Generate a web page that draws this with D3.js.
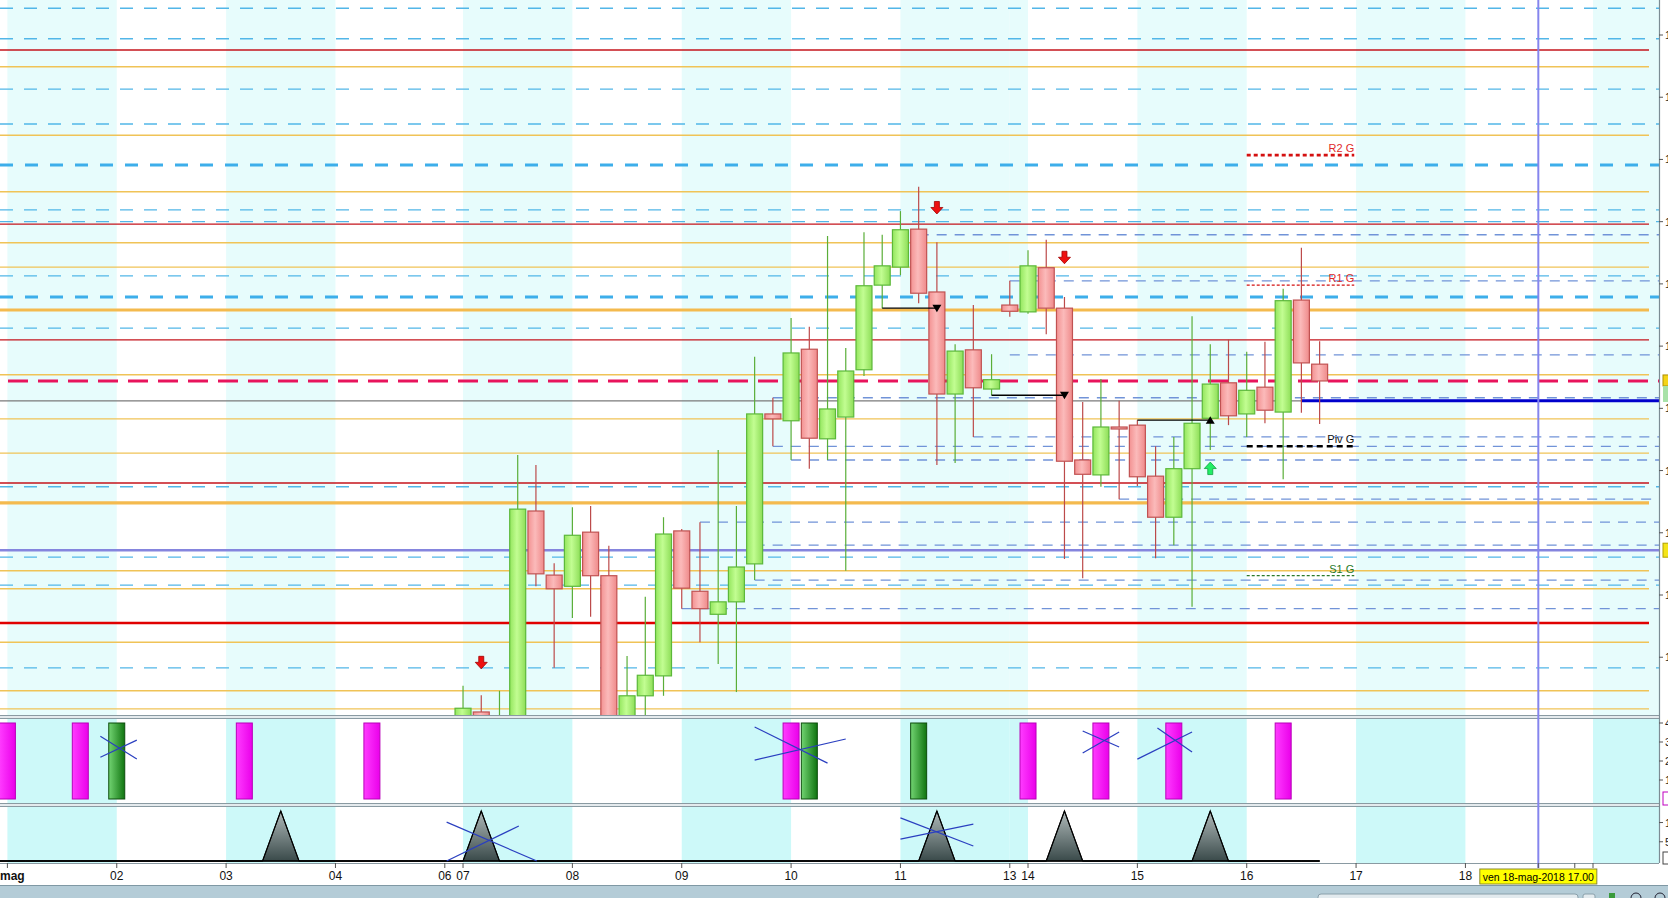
<!DOCTYPE html>
<html>
<head>
<meta charset="utf-8">
<script src="https://cdn.jsdelivr.net/npm/d3@7"></script>
<style>
body { margin: 0; background: #fff; overflow: hidden; }
text { font-family: Arial, "Liberation Sans", sans-serif; }
</style>
</head>
<body>
<div id="viz"></div>
<script>

// ---- data ----

// days on the time axis: label, first candle index, shaded or not
// (labels of 20 and 21 sit under the cursor date tag, so they stay empty)
var dayLabels = ['mag', '02', '03', '04', '06', '07', '08', '09', '10', '11', '13', '14', '15', '16', '17', '18', '', ''];
var dayStart  = [0, 6, 12, 18, 24, 25, 31, 37, 43, 49, 55, 56, 62, 68, 74, 80, 86, 87];
var dayShaded = [1, 0, 1, 0, 0, 1, 0, 1, 0, 1, 1, 0, 1, 0, 1, 0, 0, 1];

// 4h candles, index 25 (07 mag) to 72 (16 mag)
var candleFirst = 25;
var openP  = [109.802, 109.812, 109.735, 109.775, 110.135, 110.032, 110.014, 110.101, 110.031, 109.767, 109.838, 109.870,
              110.103, 110.006, 109.969, 109.989, 110.050, 110.291, 110.280, 110.395, 110.251, 110.286, 110.362, 110.498,
              110.527, 110.588, 110.487, 110.323, 110.394, 110.331, 110.466, 110.455, 110.526, 110.461, 110.217, 110.193,
              110.270, 110.273, 110.191, 110.125, 110.203, 110.284, 110.341, 110.291, 110.334, 110.294, 110.474, 110.371];
var highP  = [109.854, 109.839, 109.846, 110.225, 110.209, 110.051, 110.141, 110.143, 110.079, 109.902, 109.997, 110.125,
              110.106, 110.117, 110.233, 110.143, 110.383, 110.317, 110.445, 110.431, 110.577, 110.397, 110.583, 110.579,
              110.617, 110.656, 110.567, 110.403, 110.466, 110.387, 110.505, 110.554, 110.571, 110.479, 110.310, 110.347,
              110.312, 110.281, 110.239, 110.254, 110.448, 110.403, 110.411, 110.391, 110.407, 110.492, 110.558, 110.408];
var lowP   = [109.783, 109.775, 109.719, 109.751, 110.014, 109.883, 109.963, 109.965, 109.735, 109.751, 109.804, 109.838,
              109.978, 109.924, 109.889, 109.844, 110.024, 110.239, 110.217, 110.203, 110.217, 110.039, 110.352, 110.461,
              110.514, 110.469, 110.209, 110.212, 110.254, 110.321, 110.447, 110.452, 110.419, 110.058, 110.027, 110.174,
              110.154, 110.175, 110.059, 110.080, 109.981, 110.233, 110.273, 110.254, 110.276, 110.186, 110.293, 110.275];
var closeP = [109.818, 109.799, 109.791, 110.138, 110.034, 110.010, 110.096, 110.031, 109.767, 109.838, 109.871, 110.098,
              110.011, 109.978, 109.989, 110.045, 110.291, 110.283, 110.389, 110.252, 110.299, 110.360, 110.497, 110.529,
              110.587, 110.485, 110.323, 110.392, 110.333, 110.346, 110.456, 110.529, 110.461, 110.215, 110.194, 110.270,
              110.268, 110.190, 110.125, 110.203, 110.276, 110.339, 110.288, 110.329, 110.297, 110.473, 110.373, 110.344];

// horizontal levels on the price panel
var lightDashLevels   = [110.943, 110.894, 110.813, 110.757, 110.619, 110.600, 110.513, 110.429, 110.174, 110.061, 110.016, 109.883];
var thickDashLevels   = [110.691, 110.479];
var stepLevelIdx      = [50, 55, 55, 42, 53, 42, 43, 61, 38, 41, 41, 37];
var stepLevelPrice    = [110.579, 110.505, 110.386, 110.317, 110.254, 110.239, 110.217, 110.154, 110.117, 110.080, 110.024, 109.978];
var orangeLevels      = [110.849, 110.739, 110.648, 110.566, 110.527, 110.354, 110.283, 110.228, 110.039, 110.010, 109.924, 109.846, 109.817];
var orangeThickLevels = [110.458, 110.148];
var redLevels         = [110.876, 110.596, 110.410, 110.180];
var redThickLevels    = [109.955];
var magentaLevel = 110.344;
var grayLevel = 110.312;
var purpleLevel = 110.072;
var lastPrice = 110.312, lastPriceFrom = 71;

// daily pivots drawn over the 16th
var pivotNames  = ['R2 G', 'R1 G', 'Piv G', 'S1 G'];
var pivotPrices = [110.707, 110.498, 110.239, 110.031];
var pivotFrom = 68, pivotTo = 73.9;

// signal arrows
var downArrowIdx = [26, 51, 58];
var downArrowP   = [109.891, 110.622, 110.542];
var upArrowIdx   = [66];
var upArrowP     = [110.204];

// black breakout lines with triangle at the end
var breakFrom  = [48, 54, 62];
var breakTo    = [51, 58, 66];
var breakPrice = [110.461, 110.321, 110.281];
var breakDir   = ['down', 'down', 'up'];

// indicator 1: bars
var magentaBarIdx = [0, 4, 13, 20, 43, 56, 60, 64, 70];
var greenBarIdx   = [6, 44, 50];
var barValue = 4;
// crossed-out marks, [i0, v0, i1, v1]
var cross1 = [[5.1, 3.3, 7.1, 2.1], [5.1, 2.2, 7.1, 3.1],
              [41.0, 3.79, 45.0, 1.89], [41.0, 2.05, 46.0, 3.16],
              [59.0, 3.58, 61.0, 2.74], [59.0, 2.42, 61.0, 3.53],
              [63.1, 3.74, 65.0, 2.47], [62.0, 2.1, 65.0, 3.53]];

// indicator 2: spike series from index -1 to 72
var oscStart = -1;
var oscValues = [0, 0, 0, 0, 0, 0, 0, 0, 0, 0,
                 0, 0, 0, 0, 0, 0, 13, 0, 0, 0,
                 0, 0, 0, 0, 0, 0, 0, 13, 0, 0,
                 0, 0, 0, 0, 0, 0, 0, 0, 0, 0,
                 0, 0, 0, 0, 0, 0, 0, 0, 0, 0,
                 0, 0, 13, 0, 0, 0, 0, 0, 0, 13,
                 0, 0, 0, 0, 0, 0, 0, 13, 0, 0,
                 0, 0, 0, 0];
var cross2 = [[24.1, 10.1, 29.05, 0], [24.1, 0, 28.06, 9.1],
              [49.0, 11.2, 53.0, 3.9], [49.0, 5.7, 53.0, 9.6]];

// axis ticks
var priceTicks = [109.9, 110.0, 110.1, 110.2, 110.3, 110.4, 110.5, 110.6, 110.7, 110.8, 110.9];
var p1Ticks = [1, 2, 3, 4];
var p2Ticks = [5, 10];
var cursorIdx = 84;
var cursorLabel = 'ven 18-mag-2018 17.00';


// ---- layout ----
var W = 1668, H = 898;
var plotRight = 1659;
var solidRight = 1649;
var mainBottom = 715;
var p1Top = 718, p1Bottom = 803;
var p2Top = 806, p2Bottom = 863;

var svg = d3.select('#viz').append('svg')
	.attr('width', W)
	.attr('height', H);

// scales
var x = d3.scaleLinear().domain([0, 87]).range([7.4, 1593]);
var y = d3.scaleLinear().domain([110.0, 110.9]).range([595, 35]);
var y1 = d3.scaleLinear().domain([0, 4]).range([799, 723]);
var y2 = d3.scaleLinear().domain([0, 13]).range([861, 811]);

// gradients
var defs = svg.append('defs');
function hGrad(id, stops) {
	var g = defs.append('linearGradient').attr('id', id)
		.attr('x1', '0%').attr('x2', '100%').attr('y1', '0%').attr('y2', '0%');
	stops.forEach(function(s) { g.append('stop').attr('offset', s[0]).attr('stop-color', s[1]); });
}
hGrad('gUp', [['0%', '#94e65e'], ['45%', '#c2fd92'], ['100%', '#8ede58']]);
hGrad('gDown', [['0%', '#f39292'], ['45%', '#fbbaba'], ['100%', '#ef8a8a']]);
hGrad('gMag', [['0%', '#ff3cff'], ['100%', '#ea00ea']]);
hGrad('gGreen', [['0%', '#72d472'], ['100%', '#107410']]);
var tg = defs.append('linearGradient').attr('id', 'gTri')
	.attr('x1', '0%').attr('x2', '0%').attr('y1', '0%').attr('y2', '100%');
tg.append('stop').attr('offset', '0%').attr('stop-color', '#b0baba');
tg.append('stop').attr('offset', '100%').attr('stop-color', '#3a4a4a');

defs.append('clipPath').attr('id', 'clipMain')
	.append('rect').attr('x', 0).attr('y', 0).attr('width', plotRight).attr('height', mainBottom);
defs.append('clipPath').attr('id', 'clipP1')
	.append('rect').attr('x', 0).attr('y', p1Top).attr('width', plotRight).attr('height', p1Bottom - p1Top);
defs.append('clipPath').attr('id', 'clipP2')
	.append('rect').attr('x', 0).attr('y', p2Top).attr('width', plotRight).attr('height', p2Bottom - p2Top);

// day bands
var bandData = dayStart.map(function(s, k) {
	return {x0: x(s), x1: k < dayStart.length - 1 ? x(dayStart[k + 1]) : plotRight, shaded: dayShaded[k]};
});

function drawBands(g, top, bottom, color) {
	g.selectAll('.band')
		.data(bandData.filter(function(d) { return d.shaded; }))
		.enter().append('rect')
		.attr('class', 'band')
		.attr('x', function(d) { return d.x0; })
		.attr('y', top)
		.attr('width', function(d) { return Math.min(d.x1, plotRight) - d.x0; })
		.attr('height', bottom - top)
		.attr('fill', color);
}

// gap strips between panels
svg.append('rect').attr('x', 0).attr('y', mainBottom).attr('width', plotRight).attr('height', p1Top - mainBottom).attr('fill', '#e4eaed');
svg.append('rect').attr('x', 0).attr('y', p1Bottom).attr('width', plotRight).attr('height', p2Top - p1Bottom).attr('fill', '#e4eaed');


// ---- price panel ----
var main = svg.append('g').attr('clip-path', 'url(#clipMain)');
drawBands(main, 0, mainBottom, '#e7fcfc');

function hLines(data, color, width, dash, x1) {
	main.append('g').selectAll('line')
		.data(data)
		.enter().append('line')
		.attr('x1', 0)
		.attr('x2', x1)
		.attr('y1', function(d) { return y(d); })
		.attr('y2', function(d) { return y(d); })
		.attr('stroke', color)
		.attr('stroke-width', width)
		.attr('stroke-dasharray', dash);
}

hLines(lightDashLevels, '#52b6e8', 1.3, '13,11', plotRight);
hLines(thickDashLevels, '#3daeea', 3, '13,12', plotRight);
hLines(orangeLevels, '#f0c357', 1.4, null, solidRight);
hLines(orangeThickLevels, '#f4ba4e', 3.2, null, solidRight);
hLines(redLevels, '#c4141c', 1.4, null, solidRight);
hLines(redThickLevels, '#e00000', 2.6, null, solidRight);
hLines([grayLevel], '#7a7a7a', 1.2, null, solidRight);
hLines([purpleLevel], '#8585de', 2.6, null, plotRight);

// levels that start at a given candle
main.append('g').selectAll('line')
	.data(stepLevelIdx)
	.enter().append('line')
	.attr('x1', function(d) { return x(d); })
	.attr('x2', plotRight)
	.attr('y1', function(d, i) { return y(stepLevelPrice[i]); })
	.attr('y2', function(d, i) { return y(stepLevelPrice[i]); })
	.attr('stroke', '#7193d8')
	.attr('stroke-width', 1.3)
	.attr('stroke-dasharray', '10,8');

// last price line
main.append('line')
	.attr('x1', x(lastPriceFrom)).attr('x2', plotRight)
	.attr('y1', y(lastPrice)).attr('y2', y(lastPrice))
	.attr('stroke', '#0000cc').attr('stroke-width', 3);

main.append('line')
	.attr('x1', 8).attr('x2', plotRight)
	.attr('y1', y(magentaLevel)).attr('y2', y(magentaLevel))
	.attr('stroke', '#e8145c').attr('stroke-width', 3)
	.attr('stroke-dasharray', '20,10');

// pivots
var pivotColor = ['#d41010', '#d41010', '#000000', '#2a7a2a'];
var pivotWidth = [2.6, 1.2, 2.6, 1.2];
var pivotDash = ['4,3', '3,2', '6,4', '3,2'];
var pivotText = ['#e02a2a', '#e02a2a', '#111111', '#2a7a2a'];
main.append('g').selectAll('line')
	.data(pivotPrices)
	.enter().append('line')
	.attr('x1', x(pivotFrom))
	.attr('x2', x(pivotTo))
	.attr('y1', function(d) { return y(d); })
	.attr('y2', function(d) { return y(d); })
	.attr('stroke', function(d, i) { return pivotColor[i]; })
	.attr('stroke-width', function(d, i) { return pivotWidth[i]; })
	.attr('stroke-dasharray', function(d, i) { return pivotDash[i]; });
main.append('g').selectAll('text')
	.data(pivotPrices)
	.enter().append('text')
	.attr('x', x(pivotTo))
	.attr('y', function(d) { return y(d) - 3; })
	.attr('text-anchor', 'end')
	.attr('font-size', '11px')
	.attr('fill', function(d, i) { return pivotText[i]; })
	.text(function(d, i) { return pivotNames[i]; });

// candles
var candles = openP.map(function(o, k) {
	return {i: candleFirst + k, o: o, h: highP[k], l: lowP[k], c: closeP[k]};
});

main.append('g').selectAll('line')
	.data(candles)
	.enter().append('line')
	.attr('x1', function(d) { return x(d.i); })
	.attr('x2', function(d) { return x(d.i); })
	.attr('y1', function(d) { return y(d.h); })
	.attr('y2', function(d) { return y(d.l); })
	.attr('stroke', function(d) { return d.c >= d.o ? '#5aae38' : '#bc4a4a'; })
	.attr('stroke-width', 1.2);

main.append('g').selectAll('rect')
	.data(candles)
	.enter().append('rect')
	.attr('x', function(d) { return x(d.i) - 8; })
	.attr('width', 16)
	.attr('y', function(d) { return y(Math.max(d.o, d.c)); })
	.attr('height', function(d) { return Math.max(2, Math.abs(y(d.o) - y(d.c))); })
	.attr('fill', function(d) { return d.c >= d.o ? 'url(#gUp)' : 'url(#gDown)'; })
	.attr('stroke', function(d) { return d.c >= d.o ? '#5cb83a' : '#c05252'; })
	.attr('stroke-width', 1.2);

// breakout lines
var breaks = breakFrom.map(function(f, k) {
	return {f: f, t: breakTo[k], p: breakPrice[k], dir: breakDir[k]};
});
main.append('g').selectAll('line')
	.data(breaks)
	.enter().append('line')
	.attr('x1', function(d) { return x(d.f); })
	.attr('x2', function(d) { return x(d.t); })
	.attr('y1', function(d) { return y(d.p); })
	.attr('y2', function(d) { return y(d.p); })
	.attr('stroke', '#000').attr('stroke-width', 1.3);
main.append('g').selectAll('path')
	.data(breaks)
	.enter().append('path')
	.attr('transform', function(d) { return 'translate(' + x(d.t) + ',' + y(d.p) + ')'; })
	.attr('d', function(d) { return d.dir == 'down' ? 'M-4.5,-3.5L4.5,-3.5L0,4Z' : 'M-4.5,3.5L4.5,3.5L0,-4Z'; })
	.attr('fill', '#000');

// signal arrows
var arrowDown = 'M-2.5,-6.5L2.5,-6.5L2.5,-0.5L6,-0.5L0,6L-6,-0.5L-2.5,-0.5Z';
var arrowUp = 'M-2.5,6.5L2.5,6.5L2.5,0.5L6,0.5L0,-6L-6,0.5L-2.5,0.5Z';
main.append('g').selectAll('path')
	.data(downArrowIdx)
	.enter().append('path')
	.attr('transform', function(d, i) { return 'translate(' + x(d) + ',' + y(downArrowP[i]) + ')'; })
	.attr('d', arrowDown)
	.attr('fill', '#ee1010').attr('stroke', '#a00000').attr('stroke-width', 0.8);
main.append('g').selectAll('path')
	.data(upArrowIdx)
	.enter().append('path')
	.attr('transform', function(d, i) { return 'translate(' + x(d) + ',' + y(upArrowP[i]) + ')'; })
	.attr('d', arrowUp)
	.attr('fill', '#22ee66').attr('stroke', '#10a040').attr('stroke-width', 0.8);


// ---- indicator panel 1 ----
var pan1 = svg.append('g').attr('clip-path', 'url(#clipP1)');
pan1.append('rect').attr('x', 0).attr('y', p1Top).attr('width', plotRight).attr('height', p1Bottom - p1Top).attr('fill', '#fff');
drawBands(pan1, p1Top, p1Bottom, '#cdf9f9');

pan1.append('g').selectAll('rect')
	.data(magentaBarIdx)
	.enter().append('rect')
	.attr('x', function(d) { return x(d) - 8; })
	.attr('width', 16)
	.attr('y', y1(barValue))
	.attr('height', y1(0) - y1(barValue))
	.attr('fill', 'url(#gMag)')
	.attr('stroke', '#b800b8');
pan1.append('g').selectAll('rect')
	.data(greenBarIdx)
	.enter().append('rect')
	.attr('x', function(d) { return x(d) - 8; })
	.attr('width', 16)
	.attr('y', y1(barValue))
	.attr('height', y1(0) - y1(barValue))
	.attr('fill', 'url(#gGreen)')
	.attr('stroke', '#0c4c0c');
pan1.append('g').selectAll('line')
	.data(cross1)
	.enter().append('line')
	.attr('x1', function(d) { return x(d[0]); })
	.attr('y1', function(d) { return y1(d[1]); })
	.attr('x2', function(d) { return x(d[2]); })
	.attr('y2', function(d) { return y1(d[3]); })
	.attr('stroke', '#2a3fc0').attr('stroke-width', 1.2);


// ---- indicator panel 2 ----
var pan2 = svg.append('g').attr('clip-path', 'url(#clipP2)');
pan2.append('rect').attr('x', 0).attr('y', p2Top).attr('width', plotRight).attr('height', p2Bottom - p2Top).attr('fill', '#fff');
drawBands(pan2, p2Top, p2Bottom, '#cdf9f9');

var osc = oscValues.map(function(v, k) { return {i: k + oscStart, v: v}; });
pan2.append('path')
	.datum(osc)
	.attr('d', d3.area()
		.x(function(d) { return x(d.i); })
		.y0(y2(0))
		.y1(function(d) { return y2(d.v); }))
	.attr('fill', 'url(#gTri)')
	.attr('stroke', '#111')
	.attr('stroke-width', 1);
pan2.append('path')
	.datum(osc)
	.attr('d', d3.line()
		.x(function(d) { return x(d.i); })
		.y(function(d) { return y2(d.v); }))
	.attr('fill', 'none')
	.attr('stroke', '#000')
	.attr('stroke-width', 1.2);
pan2.append('line')
	.attr('x1', 0).attr('x2', x(oscValues.length - 1 + oscStart))
	.attr('y1', y2(0)).attr('y2', y2(0))
	.attr('stroke', '#000').attr('stroke-width', 1.6);
pan2.append('g').selectAll('line')
	.data(cross2)
	.enter().append('line')
	.attr('x1', function(d) { return x(d[0]); })
	.attr('y1', function(d) { return y2(d[1]); })
	.attr('x2', function(d) { return x(d[2]); })
	.attr('y2', function(d) { return y2(d[3]); })
	.attr('stroke', '#2a3fc0').attr('stroke-width', 1.2);


// ---- panel borders ----
[mainBottom + 0.5, p1Top + 0.5, p1Bottom + 0.5, p2Top + 0.5, p2Bottom + 0.5].forEach(function(yy) {
	svg.append('line').attr('x1', 0).attr('x2', plotRight).attr('y1', yy).attr('y2', yy)
		.attr('stroke', '#8a9aa2').attr('stroke-width', 1.2);
});
svg.append('line')
	.attr('x1', plotRight + 0.5).attr('x2', plotRight + 0.5)
	.attr('y1', 0).attr('y2', p2Bottom)
	.attr('stroke', '#7c8c94').attr('stroke-width', 1.2);

// cursor line
svg.append('line')
	.attr('x1', x(cursorIdx)).attr('x2', x(cursorIdx))
	.attr('y1', 0).attr('y2', p2Bottom + 5)
	.attr('stroke', '#8585ee').attr('stroke-width', 2);


// ---- right axes (labels run past the window edge, as in the source) ----
var rightAxis = svg.append('g').attr('font-size', '11px');
function rightTicks(vals, scale, fmt) {
	vals.forEach(function(v) {
		rightAxis.append('line')
			.attr('x1', plotRight).attr('x2', plotRight + 4)
			.attr('y1', scale(v)).attr('y2', scale(v))
			.attr('stroke', '#555');
		rightAxis.append('text')
			.attr('x', plotRight + 6)
			.attr('y', scale(v) + 4)
			.attr('fill', '#222')
			.text(fmt(v));
	});
}
rightTicks(priceTicks, y, d3.format('.1f'));
rightTicks(p1Ticks, y1, d3.format('d'));
rightTicks(p2Ticks, y2, d3.format('d'));

// price tags at the edge
rightAxis.append('rect').attr('x', plotRight + 4).attr('y', y(magentaLevel) - 6).attr('width', 10).attr('height', 11)
	.attr('fill', '#f4d418').attr('stroke', '#b09000');
rightAxis.append('rect').attr('x', plotRight + 4).attr('y', y(magentaLevel) + 5).attr('width', 10).attr('height', 16)
	.attr('fill', '#a8e2a8');
rightAxis.append('rect').attr('x', plotRight + 4).attr('y', y(purpleLevel) - 7).attr('width', 10).attr('height', 14)
	.attr('fill', '#f4e418').attr('stroke', '#b0a000');
rightAxis.append('rect').attr('x', plotRight + 4).attr('y', y1(0) - 7).attr('width', 10).attr('height', 13)
	.attr('fill', '#fff').attr('stroke', '#c000c0');
rightAxis.append('rect').attr('x', plotRight + 4).attr('y', y2(0) - 9).attr('width', 10).attr('height', 12)
	.attr('fill', '#fff').attr('stroke', '#444');


// ---- time axis ----
var axisG = svg.append('g');
axisG.selectAll('line')
	.data(dayStart.concat([cursorIdx]))
	.enter().append('line')
	.attr('x1', function(d) { return x(d); })
	.attr('x2', function(d) { return x(d); })
	.attr('y1', p2Bottom)
	.attr('y2', p2Bottom + 5)
	.attr('stroke', '#555');
axisG.selectAll('text')
	.data(dayLabels.filter(function(d) { return d != ''; }))
	.enter().append('text')
	.attr('x', function(d, i) { return i == 0 ? 0 : x(dayStart[i]); })
	.attr('y', 880)
	.attr('text-anchor', function(d, i) { return i == 0 ? 'start' : 'middle'; })
	.attr('font-size', '12px')
	.attr('font-weight', function(d, i) { return i == 0 ? 'bold' : 'normal'; })
	.attr('fill', '#111')
	.text(function(d) { return d; });

// cursor date tag
var tagW = 117;
svg.append('rect')
	.attr('x', x(cursorIdx) - tagW / 2).attr('y', 869)
	.attr('width', tagW).attr('height', 15)
	.attr('fill', '#ffff00').attr('stroke', '#8a8a30');
svg.append('text')
	.attr('x', x(cursorIdx) - tagW / 2 + 3).attr('y', 881)
	.attr('font-size', '11.5px')
	.attr('textLength', tagW - 6)
	.attr('lengthAdjust', 'spacingAndGlyphs')
	.attr('fill', '#000')
	.text(cursorLabel);


// ---- bottom scroll bar ----
svg.append('rect').attr('x', 0).attr('y', 885).attr('width', W).attr('height', 13).attr('fill', '#b4ccd7');
svg.append('line').attr('x1', 0).attr('x2', W).attr('y1', 885.5).attr('y2', 885.5).attr('stroke', '#7f98a4');
svg.append('rect').attr('x', 1318).attr('y', 894).attr('width', 260).attr('height', 8).attr('rx', 3)
	.attr('fill', '#e2eaee').attr('stroke', '#8aa0aa');
svg.append('rect').attr('x', 1583).attr('y', 894).attr('width', 12).attr('height', 8).attr('rx', 2)
	.attr('fill', '#e2eaee').attr('stroke', '#8aa0aa');
svg.append('rect').attr('x', 1609).attr('y', 893).attr('width', 6).attr('height', 6).attr('fill', '#3a9a3a');
svg.append('circle').attr('cx', 1636).attr('cy', 898).attr('r', 5).attr('fill', 'none').attr('stroke', '#223');
svg.append('circle').attr('cx', 1660).attr('cy', 898).attr('r', 5).attr('fill', 'none').attr('stroke', '#223');

</script>
</body>
</html>
